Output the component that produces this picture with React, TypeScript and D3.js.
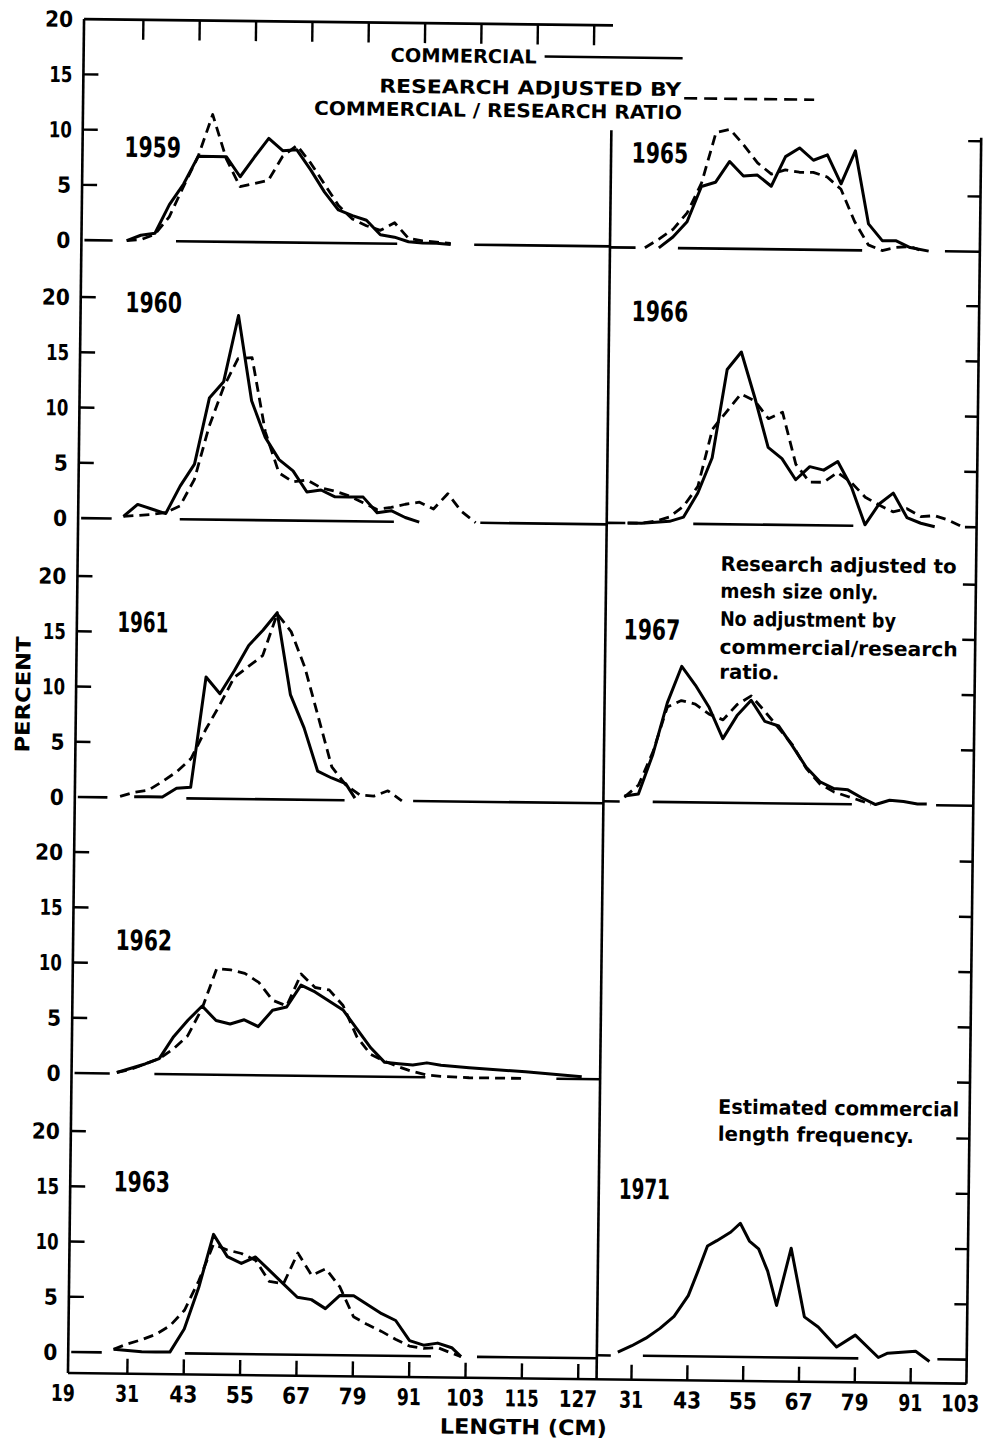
import * as d3 from 'd3';

type Pt = [number, number];

// length (cm), percent
const comm1959: Pt[] = [[28,0],[31,0.5],[34,0.7],[37,3.3],[40,5.2],[43,7.7],[46,7.7],[49,7.7],[52,5.9],[55,7.7],[58,9.4],[61,8.3],[64,8.4],[67,6.6],[70,4.6],[73,3.0],[76,2.5],[79,2.1],[82,0.8],[85,0.6],[88,0.2],[91,0.1],[94,0.1],[97,0]];
const res1959: Pt[] = [[28,0],[31,0.1],[34,0.6],[37,2.2],[40,5.0],[43,7.7],[46,11.5],[49,7.5],[52,5.0],[55,5.3],[58,5.6],[61,7.8],[64,8.8],[67,7.2],[70,5.3],[73,3.4],[76,2.2],[79,1.6],[82,1.2],[85,1.9],[88,0.5],[91,0.3],[94,0.2],[97,0.1]];
const comm1960: Pt[] = [[28,0.2],[31,1.3],[34,0.9],[37,0.5],[40,3.0],[43,5.0],[46,11.0],[49,12.5],[52,18.5],[55,10.8],[58,7.5],[61,5.5],[64,4.5],[67,2.6],[70,2.8],[73,2.2],[76,2.2],[79,2.2],[82,0.8],[85,1.0],[88,0.4],[91,0]];
const res1960: Pt[] = [[28,0.2],[31,0.3],[34,0.4],[37,0.6],[40,1.2],[43,3.6],[46,8.4],[49,12.0],[52,14.6],[55,14.7],[58,8.0],[61,4.3],[64,3.5],[67,3.7],[70,3.0],[73,2.7],[76,2.3],[79,1.7],[82,1.1],[85,1.3],[88,1.6],[91,1.8],[94,1.2],[97,2.6],[100,1.0],[103,0]];
const comm1961: Pt[] = [[31,0.1],[34,0.1],[37,0.1],[40,0.9],[43,1.0],[46,11.0],[49,9.5],[52,11.6],[55,13.9],[58,15.3],[61,16.9],[64,9.5],[67,6.5],[70,2.6],[73,2.0],[76,1.5],[78,0.2]];
const res1961: Pt[] = [[28,0.1],[31,0.5],[34,0.7],[37,1.5],[40,2.4],[43,3.6],[46,6.2],[49,8.5],[52,11.0],[55,12.0],[58,13.0],[61,16.8],[64,15.2],[67,12.0],[70,7.5],[73,3.0],[76,1.4],[79,0.5],[82,0.4],[85,0.9],[88,0]];
const comm1962: Pt[] = [[28,0.1],[31,0.5],[34,0.9],[37,1.4],[40,3.4],[43,4.9],[46,6.2],[49,4.9],[52,4.6],[55,5.0],[58,4.4],[61,5.9],[64,6.2],[67,8.2],[70,7.6],[73,6.8],[76,6.0],[79,4.3],[82,2.6],[85,1.3],[88,1.2],[91,1.1],[94,1.3],[97,1.1],[103,0.9],[115,0.6],[127,0.2]];
const res1962: Pt[] = [[28,0.1],[31,0.4],[34,0.9],[37,1.4],[40,2.3],[43,3.5],[46,6.0],[49,9.6],[52,9.5],[55,9.2],[58,8.4],[61,6.8],[64,6.3],[67,9.2],[70,8.0],[73,7.8],[76,6.4],[79,3.6],[82,2.0],[85,1.4],[88,0.9],[91,0.5],[94,0.2],[97,0.1],[103,0],[115,0]];
const comm1963: Pt[] = [[28,0.3],[31,0.2],[34,0.1],[37,0.1],[40,0.1],[43,2.2],[46,6.0],[49,10.8],[52,8.8],[55,8.2],[58,8.8],[61,7.6],[64,6.4],[67,5.2],[70,5.0],[73,4.2],[76,5.4],[79,5.4],[82,4.6],[85,3.8],[88,3.2],[91,1.4],[94,1.0],[97,1.2],[100,0.8],[102,0]];
const res1963: Pt[] = [[28,0.3],[31,0.8],[34,1.2],[37,1.7],[40,2.5],[43,3.9],[46,6.6],[49,9.9],[52,9.4],[55,9.1],[58,8.5],[61,6.6],[64,6.4],[67,9.2],[70,7.2],[73,7.8],[76,6.2],[79,3.5],[82,2.8],[85,2.2],[88,1.5],[91,0.9],[94,0.7],[97,0.8],[100,0.3],[102,0]];

const comm1965: Pt[] = [[34,0],[37,1.0],[40,2.4],[43,5.6],[46,6.0],[49,7.9],[52,6.6],[55,6.7],[58,5.7],[61,8.4],[64,9.2],[67,8.1],[70,8.6],[73,6.0],[76,9.0],[79,2.4],[82,0.9],[85,0.9],[88,0.3],[92,0]];
const res1965: Pt[] = [[31,0],[34,0.8],[37,1.7],[40,3.2],[43,5.9],[46,10.5],[49,10.8],[52,9.4],[55,7.8],[58,6.8],[61,7.2],[64,7.0],[67,7.0],[70,6.6],[73,5.5],[76,2.6],[79,0.5],[82,0],[85,0.3],[88,0.4],[90,0.1]];
const comm1966: Pt[] = [[28,0],[31,0],[34,0.1],[37,0.2],[40,0.6],[43,2.8],[46,6.0],[49,14.0],[52,15.6],[55,11.5],[58,7.0],[61,6.0],[64,4.1],[67,5.3],[70,5.0],[73,5.8],[76,3.5],[79,0.1],[82,2.0],[85,3.0],[88,0.8],[91,0.3],[94,0]];
const res1966: Pt[] = [[28,0],[31,0],[34,0.2],[37,0.6],[40,1.6],[43,3.4],[46,8.6],[49,10.2],[52,11.8],[55,11.2],[58,9.6],[61,10.2],[64,5.5],[67,3.9],[70,3.9],[73,4.8],[76,3.9],[79,2.6],[82,1.9],[85,1.3],[88,1.6],[91,0.9],[94,1.0],[97,0.6],[100,0]];
const comm1967: Pt[] = [[28,0.5],[31,0.7],[34,4.3],[37,9.0],[40,12.3],[43,10.6],[46,8.6],[49,5.8],[52,7.9],[55,9.3],[58,7.4],[61,7.0],[64,5.2],[67,3.3],[70,2.0],[73,1.4],[76,1.3],[79,0.6],[82,0],[85,0.4],[88,0.3],[91,0.1],[93,0.1]];
const res1967: Pt[] = [[28,0.4],[31,1.5],[34,4.5],[37,8.6],[40,9.2],[43,8.9],[46,8.0],[49,7.5],[52,8.9],[55,9.7],[58,8.3],[61,6.8],[64,5.3],[67,3.2],[70,1.8],[73,1.1],[76,0.7],[79,0.3],[81,0]];
const comm1971: Pt[] = [[28,0.3],[31,0.9],[34,1.6],[37,2.5],[40,3.6],[43,5.5],[45,7.7],[47,10.0],[49,10.5],[52,11.3],[54,12.1],[56,10.5],[58,9.8],[60,7.8],[62,4.7],[65,9.9],[68,3.7],[71,2.8],[75,1.0],[79,2.1],[84,0.1],[86,0.5],[89,0.6],[92,0.7],[95,-0.2]];

// zero-line pieces (cm) as drawn, with gaps
const base1959: Pt[] = [[19,25],[38.5,85.6],[102,131]];
const base1960: Pt[] = [[19,25.5],[40,85.6],[104,131]];
const base1961: Pt[] = [[19,25.3],[42.1,75.8],[90.4,131]];
const base1962: Pt[] = [[19,26.5],[36,93.7],[121.6,131]];
const base1963: Pt[] = [[19,25.5],[43.2,95.6],[105.4,131]];
const base1965: Pt[] = [[23.5,29],[38.1,77.7],[95.5,103]];
const base1966: Pt[] = [[23.5,27.5],[42.1,76.5],[100.5,103]];
const base1967: Pt[] = [[23.5,27],[34.1,76.9],[95,103]];
const base1971: Pt[] = [[23.5,26.5],[33.4,79.7],[96.7,103]];

const leftTicks = [31, 43, 55, 67, 79, 91, 103, 115, 127];
const rightTicks = [31, 43, 55, 67, 79, 91];
const pctTicks = [0, 5, 10, 15, 20];

const FONT = "'DejaVu Sans Condensed','Liberation Sans Narrow','Roboto Condensed','DejaVu Sans',sans-serif";

const xL = d3.scaleLinear().domain([19, 131]).range([79, 605]);
const xR = d3.scaleLinear().domain([23.5, 103]).range([604.6, 974.5]);
const UNIT = 11.05;
const TOP = 24;
const BOTTOM = 1378;
const FRAME_L = 76;
const DIV_TOP = 129;

const leftPanels = [
  { year: '1959', comm: comm1959, res: res1959, base: base1959, zero: 245, label: [33.3, 8.5] },
  { year: '1960', comm: comm1960, res: res1960, base: base1960, zero: 523, label: [33.9, 19.6] },
  { year: '1961', comm: comm1961, res: res1961, base: base1961, zero: 802, label: [32.4, 15.9] },
  { year: '1962', comm: comm1962, res: res1962, base: base1962, zero: 1078, label: [33.4, 12.1] },
  { year: '1963', comm: comm1963, res: res1963, base: base1963, zero: 1357, label: [33.6, 15.5] },
];
const rightPanels = [
  { year: '1965', comm: comm1965, res: res1965, base: base1965, zero: 246, label: [34.0, 8.6], ticks: [5, 10] },
  { year: '1966', comm: comm1966, res: res1966, base: base1966, zero: 521.5, label: [34.4, 19.2], ticks: [5, 10, 15, 20] },
  { year: '1967', comm: comm1967, res: res1967, base: base1967, zero: 800, label: [33.5, 15.6], ticks: [5, 10, 15, 20] },
  { year: '', comm: null, res: null, base: [], zero: 1077, label: [0, 0], ticks: [0, 5, 10, 15, 20] },
  { year: '1971', comm: comm1971, res: null, base: base1971, zero: 1354, label: [33.3, 15.1], ticks: [5, 10, 15, 20] },
];

// rough per-digit widths of the hand lettering
const digitW = (s: string, w1: number, w: number) =>
  s.split('').reduce((a, c) => a + (c === '1' ? w1 : w), 0);

function Panel({ p, x, side }: { p: any; x: d3.ScaleLinear<number, number>; side: 'L' | 'R' }) {
  const y = d3.scaleLinear().domain([0, 20]).range([p.zero, p.zero - 20 * UNIT]);
  const line = d3.line<Pt>().x((d) => x(d[0])).y((d) => y(d[1]));
  return (
    <g>
      {p.base.map((s: Pt, i: number) => (
        <line key={'b' + i} x1={x(s[0])} x2={x(s[1])} y1={y(0)} y2={y(0)} stroke="#000" strokeWidth={2.6} />
      ))}
      {side === 'L' &&
        pctTicks.filter((t) => t > 0 && y(t) > TOP + 2).map((t) => (
          <line key={'t' + t} x1={FRAME_L} x2={FRAME_L + 15} y1={y(t)} y2={y(t)} stroke="#000" strokeWidth={2.4} />
        ))}
      {side === 'L' &&
        pctTicks.map((t) => (
          <text key={'l' + t} x={FRAME_L - 11} y={y(t) + 8} textAnchor="end" fontFamily={FONT} fontWeight="bold"
            fontSize={22} textLength={digitW(String(t), 9, 14)} lengthAdjust="spacingAndGlyphs">
            {t}
          </text>
        ))}
      {side === 'R' &&
        p.ticks.map((t: number) => (
          <line key={'r' + t} x1={x(103) - 13} x2={x(103)} y1={y(t)} y2={y(t)} stroke="#000" strokeWidth={2.4} />
        ))}
      {p.res && (
        <path d={line(p.res) ?? ''} fill="none" stroke="#000" strokeWidth={2.8} strokeDasharray="10 6" strokeLinejoin="round" />
      )}
      {p.comm && (
        <path d={line(p.comm) ?? ''} fill="none" stroke="#000" strokeWidth={3} strokeLinejoin="round" />
      )}
      {p.year && (
        <text x={x(p.label[0])} y={y(p.label[1]) + 10} textAnchor="middle" fontFamily={FONT} fontWeight="bold"
          fontSize={28} textLength={digitW(p.year, 10, 15.5)} lengthAdjust="spacingAndGlyphs">
          {p.year}
        </text>
      )}
    </g>
  );
}

export default function App() {
  const textProps = { fontFamily: FONT, fontWeight: 'bold' as const, lengthAdjust: 'spacingAndGlyphs' };
  return (
    <svg width={989} height={1444} style={{ position: 'absolute', left: 0, top: 0, background: '#fff' }}>
      <rect width={989} height={1444} fill="#fff" />
      <g transform="rotate(0.68 494 700)">
        {/* frame */}
        <line x1={FRAME_L} x2={xL(131)} y1={TOP} y2={TOP} stroke="#000" strokeWidth={2.6} />
        <line x1={FRAME_L} x2={FRAME_L} y1={TOP} y2={BOTTOM} stroke="#000" strokeWidth={2.6} />
        <line x1={FRAME_L} x2={xR(103)} y1={BOTTOM} y2={BOTTOM} stroke="#000" strokeWidth={2.6} />
        <line x1={xR(23.5)} x2={xR(23.5)} y1={DIV_TOP} y2={BOTTOM} stroke="#000" strokeWidth={2.6} />
        <line x1={xR(103)} x2={xR(103)} y1={DIV_TOP + 3} y2={BOTTOM} stroke="#000" strokeWidth={2.6} />

        {leftTicks.map((t) => (
          <g key={'lt' + t}>
            <line x1={xL(t)} x2={xL(t)} y1={TOP} y2={TOP + 20} stroke="#000" strokeWidth={2.4} />
            <line x1={xL(t)} x2={xL(t)} y1={BOTTOM} y2={BOTTOM - 15} stroke="#000" strokeWidth={2.4} />
          </g>
        ))}
        {rightTicks.map((t) => (
          <line key={'rt' + t} x1={xR(t)} x2={xR(t)} y1={BOTTOM} y2={BOTTOM - 15} stroke="#000" strokeWidth={2.4} />
        ))}

        {/* x tick labels */}
        {[19, ...leftTicks].map((t) => (
          <text key={'xl' + t} x={xL(t) - (t === 19 ? 8 : 0)} y={BOTTOM + 28} textAnchor="middle" fontSize={23}
            textLength={digitW(String(t), 10, 14)} {...textProps}>
            {t}
          </text>
        ))}
        {[...rightTicks, 103].map((t) => (
          <text key={'xr' + t} x={xR(t) - (t === 103 ? 6 : 0)} y={BOTTOM + 28} textAnchor="middle" fontSize={23}
            textLength={digitW(String(t), 10, 14)} {...textProps}>
            {t}
          </text>
        ))}

        {leftPanels.map((p) => <Panel key={p.year} p={p} x={xL} side="L" />)}
        {rightPanels.map((p, i) => <Panel key={'r' + i} p={p} x={xR} side="R" />)}

        {/* legend */}
        <text x={383} y={63} fontSize={19} textLength={146} {...textProps}>COMMERCIAL</text>
        <line x1={537} x2={675} y1={56} y2={56} stroke="#000" strokeWidth={2.6} />
        <text x={372} y={94} fontSize={19} textLength={302} {...textProps}>RESEARCH ADJUSTED BY</text>
        <line x1={677} x2={807} y1={96} y2={96} stroke="#000" strokeWidth={2.6} strokeDasharray="13 7" />
        <text x={307} y={117} fontSize={19} textLength={368} {...textProps}>COMMERCIAL / RESEARCH RATIO</text>

        {/* notes */}
        <g fontSize={20} {...textProps}>
          <text x={719} y={568} textLength={236} lengthAdjust="spacingAndGlyphs">Research adjusted to</text>
          <text x={719} y={595} textLength={158} lengthAdjust="spacingAndGlyphs">mesh size only.</text>
          <text x={719} y={623} textLength={176} lengthAdjust="spacingAndGlyphs">No adjustment by</text>
          <text x={719} y={651} textLength={238} lengthAdjust="spacingAndGlyphs">commercial/research</text>
          <text x={719} y={676} textLength={60} lengthAdjust="spacingAndGlyphs">ratio.</text>
          <text x={723} y={1111} textLength={241} lengthAdjust="spacingAndGlyphs">Estimated commercial</text>
          <text x={723} y={1138} textLength={196} lengthAdjust="spacingAndGlyphs">length frequency.</text>
        </g>

        {/* axis titles */}
        <text transform="translate(30 700) rotate(-90)" textAnchor="middle" fontSize={20} textLength={116} {...textProps}>
          PERCENT
        </text>
        <text x={532} y={1434} textAnchor="middle" fontSize={21} textLength={167} {...textProps}>
          LENGTH (CM)
        </text>
      </g>
    </svg>
  );
}
